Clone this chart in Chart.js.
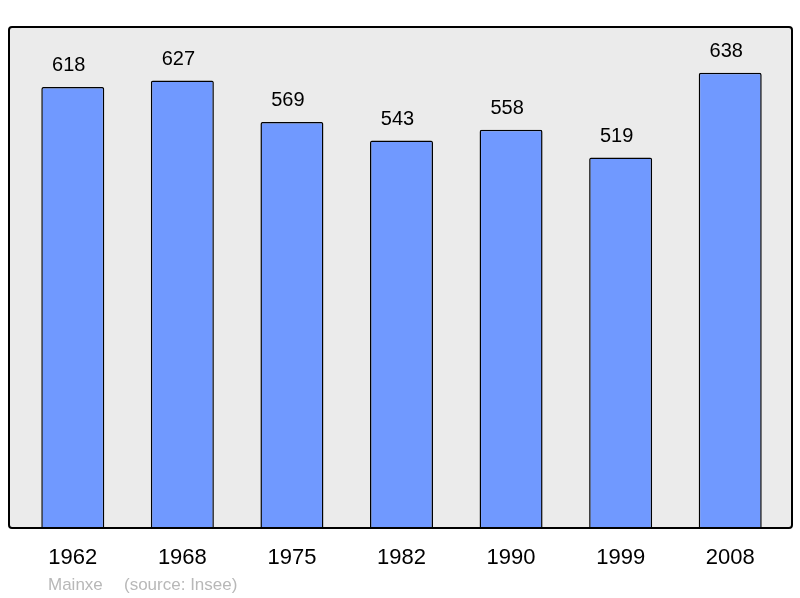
<!DOCTYPE html>
<html>
<head>
<meta charset="utf-8">
<script src="https://cdn.jsdelivr.net/npm/chart.js@4"></script>
<style>
  html, body { margin: 0; padding: 0; background: #fff; }
  #wrap { width: 800px; height: 598px; }
</style>
</head>
<body>
<div id="wrap"><canvas id="chart" width="800" height="598"></canvas></div>
<script>
const years = ["1962", "1968", "1975", "1982", "1990", "1999", "2008"];
const population = [618, 627, 569, 543, 558, 519, 638];
const footer = ["Mainxe", "(source: Insee)"];

// grey panel behind the bars, black frame on top
const panel = {
  id: "panel",
  beforeDatasetsDraw(chart) {
    const ctx = chart.ctx, a = chart.chartArea;
    ctx.save();
    ctx.fillStyle = "#ebebeb";
    ctx.beginPath();
    ctx.roundRect(9, a.top, 783, a.bottom - a.top, 3);
    ctx.fill();
    ctx.restore();
  },
  afterDatasetsDraw(chart) {
    const ctx = chart.ctx, a = chart.chartArea;
    ctx.save();
    ctx.strokeStyle = "#000";
    ctx.lineWidth = 2;
    ctx.beginPath();
    ctx.roundRect(9, a.top, 783, a.bottom - a.top, 3);
    ctx.stroke();

    // value labels above bars (sit a little left of bar centre in the original)
    ctx.fillStyle = "#000";
    ctx.font = "20px 'Liberation Sans', Arial, sans-serif";
    ctx.textAlign = "center";
    ctx.textBaseline = "middle";
    chart.getDatasetMeta(0).data.forEach((bar, i) => {
      ctx.fillText(population[i], bar.x - 4, bar.y - 21);
    });

    // footer
    ctx.fillStyle = "#b8b8b8";
    ctx.font = "17px 'Liberation Sans', Arial, sans-serif";
    ctx.textAlign = "left";
    ctx.fillText(footer[0], 48, 585);
    ctx.fillText(footer[1], 124, 585);
    ctx.restore();
  }
};

new Chart(document.getElementById("chart"), {
  type: "bar",
  data: {
    labels: years,
    datasets: [{
      data: population,
      backgroundColor: "#7099ff",
      borderColor: "#000",
      borderWidth: 1.5,
      borderSkipped: "bottom",
      borderRadius: { topLeft: 2, topRight: 2 },
      barPercentage: 0.575,
      categoryPercentage: 1
    }]
  },
  options: {
    responsive: false,
    animation: false,
    layout: { padding: { left: 18, right: 15, top: 27, bottom: 0 } },
    plugins: { legend: { display: false }, tooltip: { enabled: false } },
    scales: {
      x: {
        grid: { display: false, drawTicks: false },
        border: { display: false },
        ticks: { color: "#000", font: { size: 22, family: "'Liberation Sans', Arial, sans-serif" }, padding: 17, maxRotation: 0 },
        afterFit(s) { s.height = 70; }
      },
      y: { display: false, min: 0, max: 702 }
    }
  },
  plugins: [panel]
});
</script>
</body>
</html>
